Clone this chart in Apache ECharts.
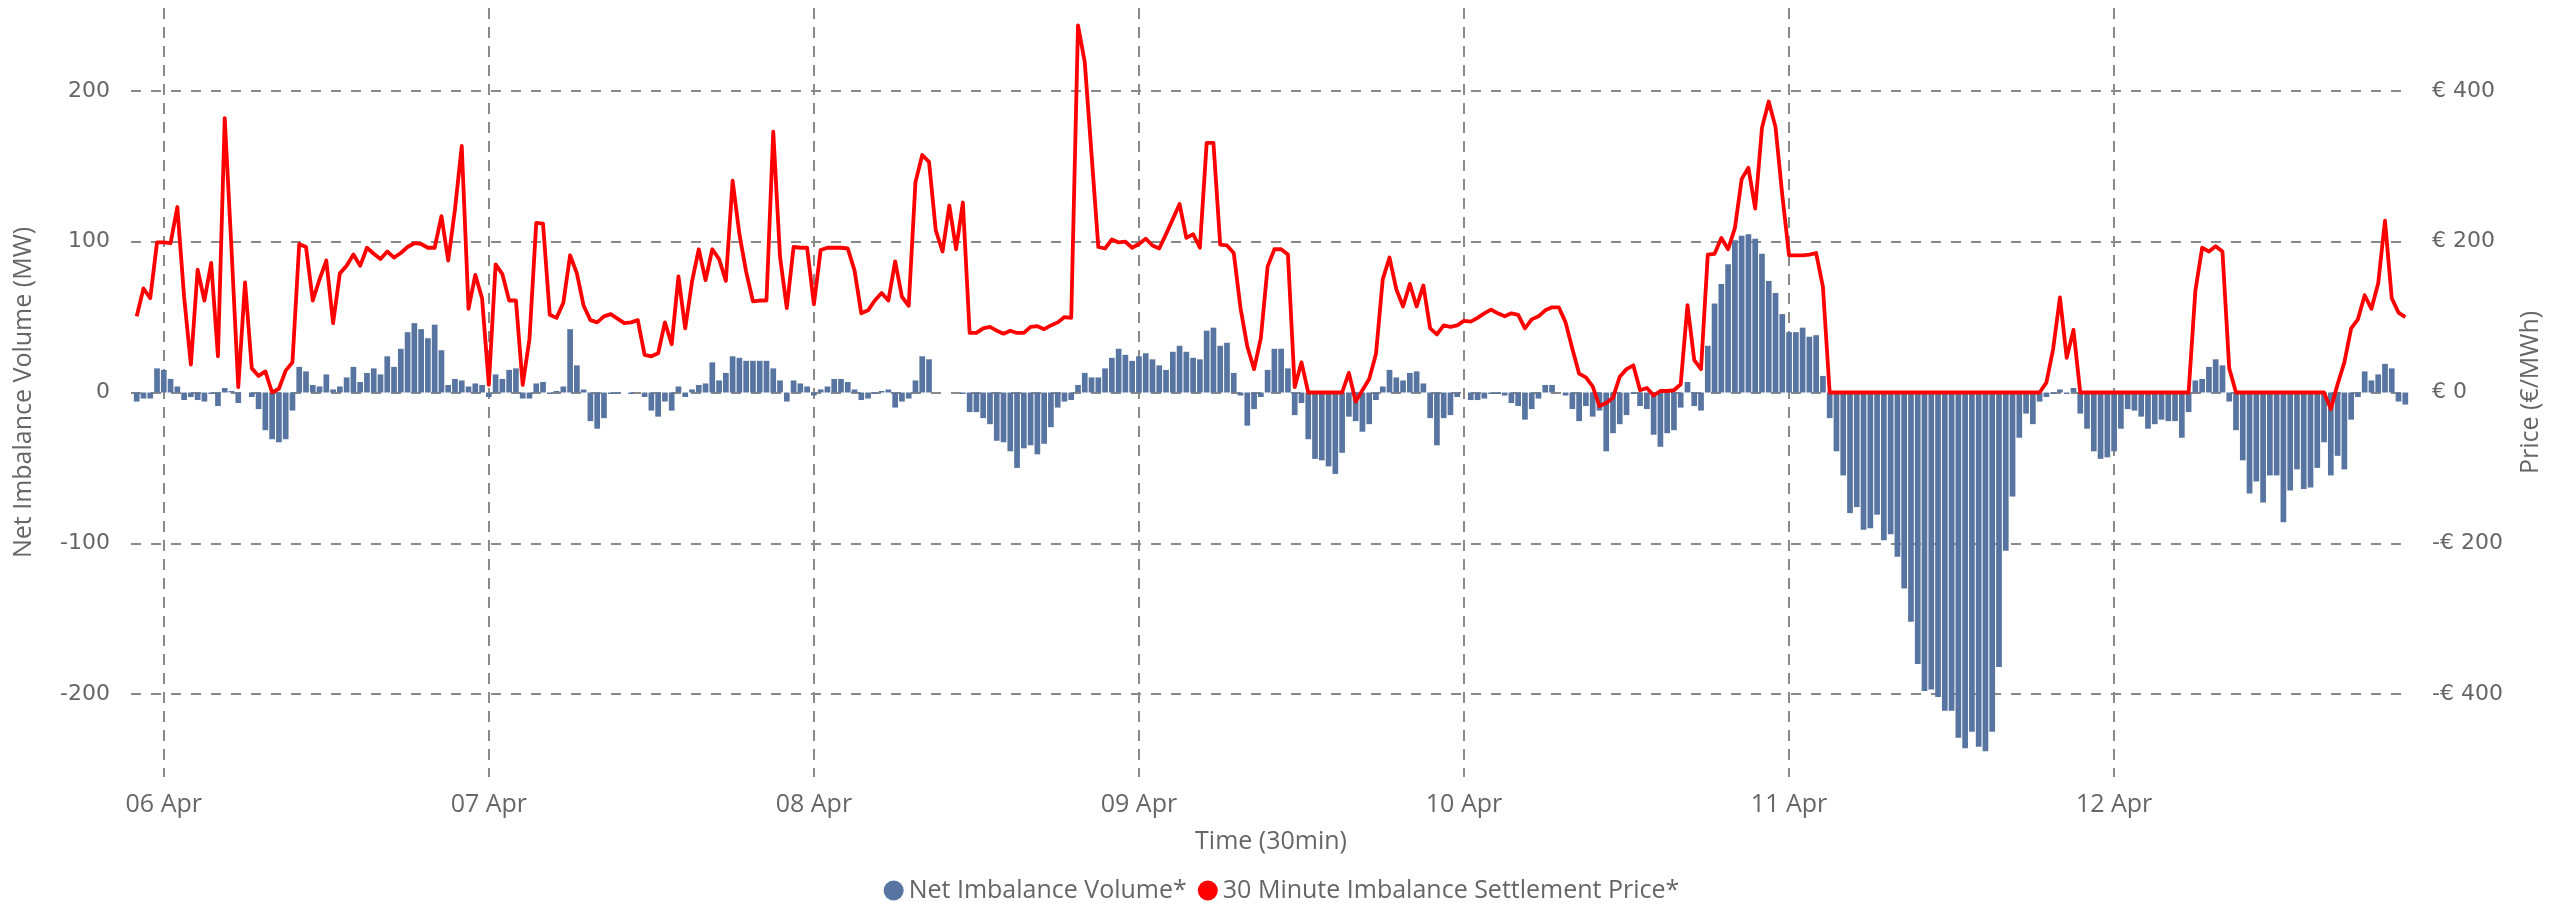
<!DOCTYPE html>
<html>
<head>
<meta charset="utf-8">
<script src="https://cdn.jsdelivr.net/npm/echarts@6/dist/echarts.min.js"></script>
<style>
html,body{margin:0;padding:0;background:#ffffff;}
#chart{width:2563px;height:905px;}
</style>
</head>
<body>
<div id="chart"></div>
<script>
// First settlement period: 05 Apr 22:00 (local), 30-minute periods
const startYear = 2025, startMonth = 3, startDay = 5, startHour = 22;
const periodMinutes = 30;
const monthNames = ['Jan','Feb','Mar','Apr','May','Jun','Jul','Aug','Sep','Oct','Nov','Dec'];

// Net Imbalance Volume (MW), one value per 30 min
const volume = [
  -6,-4,-4,16,15,9,4,-5,-3,-5,-6,-1,
  -9,3,1,-7,0,-3,-11,-25,-31,-33,-31,-12,
  17,14,5,4,12,2,4,10,17,7,13,16,
  12,24,17,29,40,46,42,36,45,28,5,9,
  8,4,6,5,-3,12,9,15,16,-4,-4,6,
  7,-1,1,4,42,18,2,-19,-24,-17,-1,-1,
  0,-1,0,-3,-12,-16,-6,-12,4,-3,2,5,
  6,20,8,13,24,23,21,21,21,21,16,8,
  -6,8,6,4,-2,2,4,9,9,7,2,-5,
  -4,-1,1,2,-10,-6,-4,8,24,22,0,0,
  0,0,-1,-13,-13,-17,-21,-32,-33,-39,-50,-37,
  -35,-41,-34,-23,-10,-6,-5,5,13,10,10,16,
  23,29,25,21,24,26,22,18,15,27,31,27,
  23,22,41,43,31,33,13,-2,-22,-11,-3,15,
  29,29,16,-15,-7,-31,-44,-45,-49,-54,-40,-16,
  -19,-26,-21,-5,4,15,10,8,13,14,6,-17,
  -35,-17,-15,-3,0,-5,-5,-4,-1,-1,-2,-7,
  -9,-18,-11,-4,5,5,0,-2,-11,-19,-9,-16,
  -12,-39,-27,-21,-15,-1,-9,-11,-28,-36,-27,-25,
  -10,7,-9,-12,31,59,72,85,101,104,105,102,
  92,74,66,52,40,40,43,37,38,11,-17,-39,
  -55,-80,-76,-91,-90,-81,-98,-94,-109,-130,-152,-180,
  -198,-197,-202,-211,-211,-229,-236,-225,-235,-238,-225,-182,
  -105,-69,-30,-14,-21,-6,-3,-1,2,-1,3,-14,
  -24,-39,-44,-43,-39,-24,-11,-12,-16,-24,-21,-18,
  -19,-19,-30,-13,8,9,17,22,18,-6,-25,-45,
  -67,-59,-73,-55,-55,-86,-65,-51,-64,-63,-50,-33,
  -55,-42,-51,-18,-3,14,8,12,19,16,-6,-8
];

// 30 Minute Imbalance Settlement Price (EUR/MWh)
const price = [
  101,138,125,199,199,198,246,127,37,163,122,172,
  48,364,190,7,146,32,22,28,0,5,29,40,
  197,193,122,150,175,92,158,168,183,168,192,184,
  177,187,179,185,193,198,197,192,192,234,175,243,
  327,111,156,125,10,170,157,122,122,10,71,225,
  224,103,99,119,182,158,115,96,93,101,104,98,
  92,93,96,50,48,52,93,64,154,85,147,190,
  149,190,177,148,281,210,160,121,122,122,346,180,
  112,193,192,192,117,189,192,192,192,191,162,105,
  109,122,132,122,174,127,115,279,315,306,215,187,
  248,190,252,79,79,85,87,82,78,82,79,79,
  87,88,84,89,93,100,99,487,438,316,193,191,
  203,199,200,192,197,204,195,191,210,230,250,205,
  210,192,331,331,196,195,185,112,61,31,72,167,
  190,190,183,7,40,0,0,0,0,0,0,26,
  -12,3,18,51,150,179,137,114,144,114,142,85,
  77,89,87,89,95,94,99,105,110,105,101,105,
  103,85,97,101,109,113,113,93,58,25,20,8,
  -18,-14,-7,21,31,36,3,6,-4,2,2,3,
  11,116,43,31,183,184,205,190,218,283,298,244,
  351,386,352,262,182,182,182,183,185,140,0,0,
  0,0,0,0,0,0,0,0,0,0,0,0,
  0,0,0,0,0,0,0,0,0,0,0,0,
  0,0,0,0,0,0,13,58,126,46,83,0,
  0,0,0,0,0,0,0,0,0,0,0,0,
  0,0,0,0,135,192,187,194,187,32,0,0,
  0,0,0,0,0,0,0,0,0,0,0,0,
  -22,11,40,85,97,129,111,145,228,125,106,100
];

const seriesNames = ['Net Imbalance Volume*', '30 Minute Imbalance Settlement Price*'];

const step = periodMinutes * 60000;
const t0 = new Date(startYear, startMonth, startDay, startHour, 0, 0).getTime();
const times = volume.map((_, i) => t0 + i * step);
const volData = times.map((t, i) => [t, volume[i]]);
const priceData = times.map((t, i) => [t, price[i]]);
const pad = n => (n < 10 ? '0' : '') + n;

const gridColor = '#8a8a8a';
const textColor = '#666666';
const uiFont = 'Open Sans';

const chart = echarts.init(document.getElementById('chart'), null, {renderer: 'canvas'});
chart.setOption({
  animation: false,
  backgroundColor: '#ffffff',
  grid: {left: 131, right: 152, top: 8, bottom: 128},
  legend: {
    data: seriesNames,
    bottom: -3,
    left: 'center',
    icon: 'circle',
    itemWidth: 20,
    itemHeight: 20,
    itemGap: 11,
    textStyle: {fontFamily: uiFont, fontSize: 25, color: textColor}
  },
  xAxis: {
    type: 'time',
    min: t0 - 0.42 * step,
    max: times[times.length - 1] + 0.42 * step,
    minInterval: 86400000,
    maxInterval: 86400000,
    name: 'Time (30min)',
    nameLocation: 'middle',
    nameGap: 52,
    nameTextStyle: {fontFamily: uiFont, fontSize: 25, color: textColor},
    axisLine: {show: false},
    axisTick: {show: false},
    axisLabel: {
      margin: 15,
      fontFamily: uiFont,
      fontSize: 25,
      color: textColor,
      hideOverlap: false,
      formatter: function (v) {
        const d = new Date(v);
        if (d.getHours() !== 0 || d.getMinutes() !== 0) return '';
        return pad(d.getDate()) + ' ' + monthNames[d.getMonth()];
      }
    },
    splitLine: {
      show: true,
      showMinLine: false,
      showMaxLine: false,
      lineStyle: {type: [11, 8], color: gridColor, width: 2}
    }
  },
  yAxis: [
    {
      type: 'value',
      min: -255,
      max: 255,
      splitNumber: 5,
      name: 'Net Imbalance Volume (MW)',
      nameLocation: 'middle',
      nameGap: 95,
      nameTextStyle: {fontFamily: uiFont, fontSize: 25, color: textColor},
      axisLine: {show: false},
      axisTick: {show: false},
      axisLabel: {
        margin: 21, fontFamily: 'DejaVu Sans', fontSize: 22, color: textColor,
        showMinLabel: false, showMaxLabel: false
      },
      splitLine: {
        show: true, showMinLine: false, showMaxLine: false,
        lineStyle: {type: [10, 10], color: gridColor, width: 2}
      }
    },
    {
      type: 'value',
      min: -510,
      max: 510,
      splitNumber: 5,
      position: 'right',
      name: 'Price (€/MWh)',
      nameLocation: 'middle',
      nameGap: 107,
      nameTextStyle: {fontFamily: uiFont, fontSize: 25, color: textColor},
      axisLine: {show: false},
      axisTick: {show: false},
      axisLabel: {
        margin: 21, fontFamily: 'DejaVu Sans', fontSize: 22, color: textColor,
        showMinLabel: false, showMaxLabel: false,
        formatter: function (v) { return v < 0 ? '-€ ' + Math.abs(v) : '€ ' + v; }
      },
      splitLine: {show: false}
    }
  ],
  series: [
    {
      name: seriesNames[0],
      type: 'bar',
      yAxisIndex: 0,
      data: volData,
      barWidth: 5.7,
      itemStyle: {color: '#5874a0'},
      emphasis: {disabled: true}
    },
    {
      name: seriesNames[1],
      type: 'line',
      yAxisIndex: 1,
      data: priceData,
      showSymbol: false,
      symbol: 'none',
      lineStyle: {color: '#ff0000', width: 3.8, join: 'round'},
      itemStyle: {color: '#ff0000'},
      emphasis: {disabled: true}
    }
  ]
});
</script>
</body>
</html>
